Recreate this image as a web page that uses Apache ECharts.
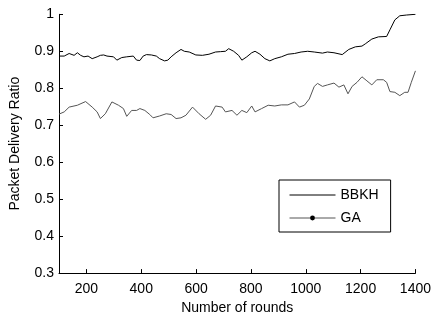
<!DOCTYPE html>
<html>
<head>
<meta charset="utf-8">
<script src="https://cdn.jsdelivr.net/npm/echarts@6/dist/echarts.min.js"></script>
<style>
html,body{margin:0;padding:0;background:#fff;}
#c{width:434px;height:320px;}
</style>
</head>
<body>
<div id="c"></div>
<script>
const xTicks = [200, 400, 600, 800, 1000, 1200, 1400];
const yTicks = [0.3, 0.4, 0.5, 0.6, 0.7, 0.8, 0.9, 1];

const bbkhRounds = [100,119,137,155,167,179,191,206,221,239,251,263,275,299,311,329,347,371,383,395,407,419,437,455,467,485,497,509,527,545,557,575,599,623,647,671,689,707,719,737,755,767,785,803,815,833,851,869,887,911,935,959,983,1007,1031,1061,1079,1103,1133,1157,1181,1205,1217,1241,1265,1295,1307,1325,1343,1367,1400];
const bbkhValues = [0.887,0.887,0.894,0.889,0.896,0.889,0.885,0.887,0.880,0.885,0.889,0.890,0.887,0.885,0.876,0.883,0.885,0.887,0.876,0.875,0.887,0.891,0.890,0.887,0.880,0.874,0.876,0.885,0.896,0.905,0.900,0.898,0.890,0.889,0.892,0.898,0.899,0.900,0.907,0.900,0.889,0.876,0.885,0.896,0.900,0.892,0.880,0.874,0.880,0.885,0.892,0.894,0.898,0.900,0.898,0.895,0.898,0.896,0.891,0.905,0.912,0.914,0.920,0.933,0.939,0.940,0.958,0.985,0.996,0.998,1.0];

const gaRounds = [100,119,137,167,197,221,239,251,269,293,317,335,347,365,383,395,413,431,443,467,491,509,527,545,563,587,611,635,653,671,695,707,731,749,767,785,803,815,839,863,887,911,935,959,977,995,1013,1031,1043,1061,1079,1103,1121,1139,1154,1169,1187,1205,1223,1241,1259,1283,1295,1307,1325,1343,1361,1373,1385,1400];
const gaValues = [0.730,0.736,0.749,0.754,0.764,0.749,0.736,0.718,0.731,0.763,0.754,0.745,0.724,0.740,0.740,0.745,0.740,0.729,0.720,0.725,0.731,0.729,0.718,0.720,0.727,0.749,0.731,0.716,0.727,0.752,0.749,0.736,0.740,0.727,0.740,0.734,0.752,0.736,0.745,0.754,0.752,0.755,0.755,0.763,0.749,0.754,0.771,0.805,0.813,0.805,0.809,0.814,0.803,0.809,0.785,0.805,0.816,0.831,0.820,0.809,0.823,0.823,0.816,0.791,0.789,0.780,0.789,0.789,0.816,0.847];

const font = '"Liberation Sans", Arial, sans-serif';
const chart = echarts.init(document.getElementById('c'), null, {renderer: 'canvas'});
chart.setOption({
  animation: false,
  backgroundColor: '#fff',
  grid: {left: 58, right: 15, top: 14.3, bottom: 43.3, containLabel: false},
  xAxis: {
    type: 'value', min: 100, max: 1400, splitNumber: 6, minInterval: 200, maxInterval: 200,
    name: 'Number of rounds', nameLocation: 'middle', nameGap: 27,
    nameTextStyle: {fontFamily: font, fontSize: 14, color: '#000'},
    axisLine: {show: true, lineStyle: {color: '#000', width: 1}},
    axisTick: {show: true, inside: true, length: 4, lineStyle: {color: '#000'}},
    axisLabel: {fontFamily: font, fontSize: 14, color: '#000', margin: 9,
      formatter: v => xTicks.includes(v) ? String(v) : ''},
    splitLine: {show: false}
  },
  yAxis: {
    type: 'value', min: 0.3, max: 1, interval: 0.1,
    name: 'Packet Delivery Ratio', nameLocation: 'middle', nameGap: 37,
    nameTextStyle: {fontFamily: font, fontSize: 14, color: '#000'},
    axisLine: {show: true, lineStyle: {color: '#000', width: 1}},
    axisTick: {show: true, inside: true, length: 4, lineStyle: {color: '#000'}},
    axisLabel: {fontFamily: font, fontSize: 14, color: '#000', margin: 5,
      formatter: v => {
        const r = Math.round(v * 10) / 10;
        return yTicks.some(t => Math.abs(t - r) < 1e-9) ? String(r) : '';
      }},
    splitLine: {show: false}
  },
  legend: {
    orient: 'vertical', left: 279, top: 180,
    padding: [8, 12, 7, 10], itemGap: 9, itemWidth: 46, itemHeight: 6,
    borderColor: '#000', borderWidth: 1, borderRadius: 0, backgroundColor: '#fff',
    lineStyle: {width: 1},
    textStyle: {fontFamily: font, fontSize: 14, color: '#000'},
    data: [
      {name: 'BBKH', itemStyle: {color: 'rgba(0,0,0,0)', borderWidth: 0}},
      {name: 'GA', itemStyle: {color: '#000', borderWidth: 0}}
    ]
  },
  series: [
    {
      name: 'BBKH', type: 'line', symbol: 'none',
      lineStyle: {color: '#000', width: 1}, itemStyle: {color: '#000'},
      data: bbkhRounds.map((r, i) => [r, bbkhValues[i]])
    },
    {
      name: 'GA', type: 'line', symbol: 'circle', symbolSize: 5, showSymbol: false,
      lineStyle: {color: '#555', width: 1}, itemStyle: {color: '#000'},
      data: gaRounds.map((r, i) => [r, gaValues[i]])
    }
  ]
});
</script>
</body>
</html>
